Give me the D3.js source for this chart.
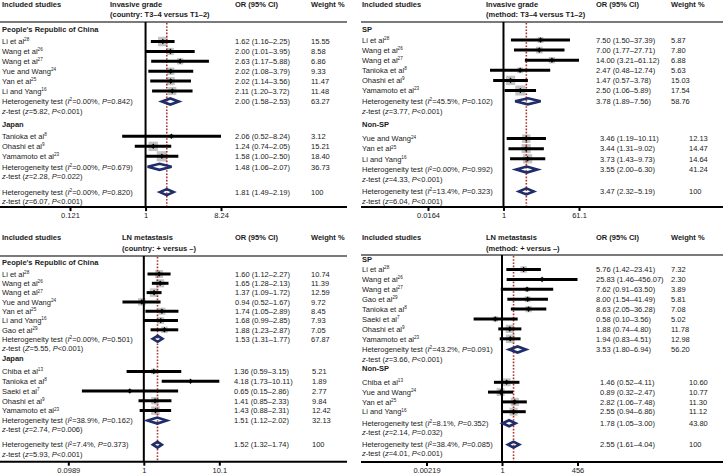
<!DOCTYPE html>
<html><head><meta charset="utf-8">
<script src="https://cdn.jsdelivr.net/npm/d3@7"></script>
<style>body{margin:0;background:#fff}svg{display:block}text{font-family:"Liberation Sans",Arial,Helvetica,sans-serif}</style>
</head><body><svg id="c" width="723" height="475"></svg>
<script>
// ---------- DATA ----------
// study rows: [label, reference, OR, lower, upper, weight %]
const tlChina = [["Li et al","28",1.62,1.16,2.25,15.55],["Wang et al","26",2.00,1.01,3.95,8.58],["Wang et al","27",2.63,1.17,5.88,6.86],["Yue and Wang","24",2.02,1.08,3.79,9.33],["Yan et al","25",2.02,1.14,3.56,11.47],["Li and Yang","16",2.11,1.20,3.72,11.48]];
const tlChinaPool = [2.00,1.58,2.53,63.27], tlChinaHet = ["0.00%","0.842"], tlChinaZ = ["z","5.82","<0.001"];
const tlJapan = [["Tanioka et al","8",2.06,0.52,8.24,3.12],["Ohashi et al","9",1.24,0.74,2.05,15.21],["Yamamoto et al","23",1.58,1.00,2.50,18.40]];
const tlJapanPool = [1.48,1.06,2.07,36.73], tlJapanHet = ["0.00%","0.679"], tlJapanZ = ["z","2.28","=0.022"];
const tlAllPool = [1.81,1.49,2.19,100], tlAllHet = ["0.00%","0.820"], tlAllZ = ["z","6.07","<0.001"];
const tlTicks = [0.121,1,8.24];

const trSP = [["Li et al","28",7.50,1.50,37.39,5.87],["Wang et al","26",7.00,1.77,27.71,7.80],["Wang et al","27",14.00,3.21,61.12,6.88],["Tanioka et al","8",2.47,0.48,12.74,5.63],["Ohashi et al","9",1.47,0.57,3.78,15.03],["Yamamoto et al","23",2.50,1.06,5.89,17.54]];
const trSPPool = [3.78,1.89,7.56,58.76], trSPHet = ["45.5%","0.102"], trSPZ = ["z","3.77","<0.001"];
const trNon = [["Yue and Wang","24",3.46,1.19,10.11,12.13],["Yan et al","25",3.44,1.31,9.02,14.47],["Li and Yang","16",3.73,1.43,9.73,14.64]];
const trNonPool = [3.55,2.00,6.30,41.24], trNonHet = ["0.00%","0.992"], trNonZ = ["z","4.33","<0.001"];
const trAllPool = [3.47,2.32,5.19,100], trAllHet = ["13.4%","0.323"], trAllZ = ["z","6.04","<0.001"];
const trTicks = [0.0164,1,61.1];

const blChina = [["Li et al","28",1.60,1.12,2.27,10.74],["Wang et al","26",1.65,1.28,2.13,11.39],["Wang et al","27",1.37,1.09,1.72,12.59],["Yue and Wang","24",0.94,0.52,1.67,9.72],["Yan et al","25",1.74,1.05,2.89,8.45],["Li and Yang","16",1.68,0.99,2.85,7.93],["Gao et al","29",1.88,1.23,2.87,7.05]];
const blChinaPool = [1.53,1.31,1.77,67.87], blChinaHet = ["0.00%","0.501"], blChinaZ = ["Z","5.55","<0.001"];
const blJapan = [["Chiba et al","13",1.36,0.59,3.15,5.21],["Tanioka et al","8",4.18,1.73,10.11,1.89],["Saeki et al","7",0.65,0.15,2.86,2.77],["Ohashi et al","9",1.41,0.85,2.33,9.84],["Yamamoto et al","23",1.43,0.88,2.31,12.42]];
const blJapanPool = [1.51,1.12,2.02,32.13], blJapanHet = ["38.9%","0.162"], blJapanZ = ["z","2.74","=0.006"];
const blAllPool = [1.52,1.32,1.74,100], blAllHet = ["7.4%","0.373"], blAllZ = ["z","5.93","<0.001"];
const blTicks = [0.0989,1,10.1];

const brSP = [["Li et al","28",5.76,1.42,23.41,7.32],["Wang et al","26",25.83,1.46,456.07,2.30],["Wang et al","27",7.62,0.91,63.50,3.89],["Gao et al","29",8.00,1.54,41.49,5.81],["Tanioka et al","8",8.63,2.05,36.28,7.08],["Saeki et al","7",0.58,0.10,3.56,5.02],["Ohashi et al","9",1.88,0.74,4.80,11.78],["Yamamoto et al","23",1.94,0.83,4.51,12.98]];
const brSPPool = [3.53,1.80,6.94,56.20], brSPHet = ["43.2%","0.091"], brSPZ = ["z","3.66","<0.001"];
const brNon = [["Chiba et al","13",1.46,0.52,4.11,10.60],["Yue and Wang","24",0.89,0.32,2.47,10.77],["Yan et al","25",2.82,1.06,7.48,11.30],["Li and Yang","16",2.55,0.94,6.86,11.12]];
const brNonPool = [1.78,1.05,3.00,43.80], brNonHet = ["8.1%","0.352"], brNonZ = ["z","2.14","=0.032"];
const brAllPool = [2.55,1.61,4.04,100], brAllHet = ["38.4%","0.085"], brAllZ = ["z","4.01","<0.001"];
const brTicks = [0.00219,1,456];

// ---------- LAYOUT ----------
const FS = 7.5, TXT = "#1a1a1a", NAVY = "#1f2d68", RED = "#a8332c";
const left = {ox:0, lineW:347, labelX:2, x1:145.5, half:75.5};
const right = {ox:361, lineW:362, labelX:1, x1:142.5, half:75.5};

const panels = [
 {L:Object.assign({}, left, {oy:0, x1:145.5, titleX:110, orX:[235,235], wX:[311,311], sep:22, g1:29, g2s:[12.5,12], step:[9.9,10], s2h:[10.5,10.5], h2z:9.8, z2g:13, z2o:15.5, o2z:9.5, z2a:5.5}),
  title:["Invasive grade","(country: T3–4 versus T1–2)"],
  groups:[{name:"People's Republic of China", s:tlChina, pool:tlChinaPool, het:tlChinaHet, z:tlChinaZ},{name:"Japan", s:tlJapan, pool:tlJapanPool, het:tlJapanHet, z:tlJapanZ}],
  all:{pool:tlAllPool, het:tlAllHet, z:tlAllZ}, ticks:tlTicks},
 {L:Object.assign({}, right, {oy:0, x1:142.5, titleX:125, orX:[235,239], wX:[310,328], sep:22, g1:29, g2s:[11,14], step:[10.1,10.1], s2h:[10.8,10.8], h2z:9.8, z2g:13.5, z2o:12, o2z:9.5, z2a:6}),
  title:["Invasive grade","(method: T3–4 versus T1–2)"],
  groups:[{name:"SP", s:trSP, pool:trSPPool, het:trSPHet, z:trSPZ},{name:"Non-SP", s:trNon, pool:trNonPool, het:trNonHet, z:trNonZ}],
  all:{pool:trAllPool, het:trAllHet, z:trAllZ}, ticks:trTicks},
 {L:Object.assign({}, left, {oy:233.5, x1:143.8, titleX:122, orX:[235,234], wX:[311,312], sep:22.5, g1:28.5, g2s:[12,13.5], step:[9.3,9.8], s2h:[9,10], h2z:9.1, z2g:10, z2o:15, o2z:9.2, z2a:7.8}),
  title:["LN metastasis","(country: + versus –)"],
  groups:[{name:"People's Republic of China", s:blChina, pool:blChinaPool, het:blChinaHet, z:blChinaZ},{name:"Japan", s:blJapan, pool:blJapanPool, het:blJapanHet, z:blJapanZ}],
  all:{pool:blAllPool, het:blAllHet, z:blAllZ}, ticks:blTicks},
 {L:Object.assign({}, right, {oy:233.5, x1:141, titleX:125, orX:[235,239], wX:[310,328], sep:21.5, g1:25.5, g2s:[10.5,14], step:[9.9,9.8], s2h:[10.7,11.6], h2z:9.3, z2g:9.5, z2o:12, o2z:9, z2a:8.5}),
  title:["LN metastasis","(method: + versus –)"],
  groups:[{name:"SP", s:brSP, pool:brSPPool, het:brSPHet, z:brSPZ},{name:"Non-SP", s:brNon, pool:brNonPool, het:brNonHet, z:brNonZ}],
  all:{pool:brAllPool, het:brAllHet, z:brAllZ}, ticks:brTicks}
];

// ---------- DRAW ----------
const svg = d3.select("#c");
svg.append("rect").attr("width",723).attr("height",475).attr("fill","#fff");
const defs = svg.append("defs");
defs.append("filter").attr("id","soft").attr("x","-50%").attr("y","-50%").attr("width","200%").attr("height","200%")
  .append("feGaussianBlur").attr("stdDeviation",0.6);

const f2 = d3.format(".2f");
const fmtOR = v => `${f2(v[0])} (${f2(v[1])}–${f2(v[2])})`;
const fmtW = w => w === 100 ? "100" : f2(w);

function rich(g, x, y, parts, bold) {
  const t = g.append("text").attr("x", x).attr("y", y + 2.7).attr("font-size", FS).attr("fill", TXT);
  if (bold) t.attr("font-weight", "bold");
  let shift = 0;
  parts.forEach(p => {
    const [s, st] = Array.isArray(p) ? p : [p, ""];
    const sp = t.append("tspan").text(s);
    const want = st.includes("s") ? -2.8 : 0;
    if (want !== shift) { sp.attr("dy", want - shift); shift = want; }
    if (st.includes("s")) sp.attr("font-size", FS * 0.62);
    if (st.includes("i")) sp.attr("font-style", "italic");
  });
  return t;
}
const hetParts = h => ["Heterogeneity test (", ["I","i"], ["2","s"], "=" + h[0] + ", ", ["P","i"], "=" + h[1] + ")"];
const zParts = z => [["z","i"], "-test (", [z[0],"i"], "=" + z[1] + ", ", ["P","i"], z[2] + ")"];

panels.forEach(p => {
  const L = p.L;
  const g = svg.append("g").attr("transform", `translate(${L.ox},${L.oy})`);
  // headers
  rich(g, L.labelX, 3.8, ["Included studies"], true);
  rich(g, L.titleX, 3.8, [p.title[0]], true);
  rich(g, L.titleX, 14.5, [p.title[1]], true);
  rich(g, L.orX[0], 3.8, ["OR (95% CI)"], true);
  rich(g, L.wX[0], 3.8, ["Weight %"], true);
  g.append("line").attr("x1",0).attr("x2",L.lineW).attr("y1",L.sep).attr("y2",L.sep).attr("stroke","#7a7a7a").attr("stroke-width",2);

  // rows
  const rows = [];
  let y = L.g1;
  p.groups.forEach((gr, gi) => {
    if (gi > 0) y += L.z2g;
    rows.push({type:"group", y, name:gr.name});
    y += L.g2s[gi];
    gr.s.forEach((s, i) => { if (i > 0) y += L.step[gi]; rows.push({type:"study", y, s, col:gi}); });
    y += L.s2h[gi]; rows.push({type:"het", y, pool:gr.pool, het:gr.het, col:gi});
    y += L.h2z; rows.push({type:"z", y, z:gr.z});
  });
  y += L.z2o; rows.push({type:"het", y, pool:p.all.pool, het:p.all.het, col:p.groups.length - 1});
  y += L.o2z; rows.push({type:"z", y, z:p.all.z});
  const axisY = y + L.z2a;

  const x = d3.scaleLog().domain([p.ticks[0], p.ticks[2]]).range([L.x1 - L.half, L.x1 + L.half]);

  // gray weight boxes
  const studies = rows.filter(r => r.type === "study");
  g.append("g").attr("filter","url(#soft)").selectAll("rect").data(studies).join("rect")
    .attr("x", r => x(r.s[2]) - 1.2 * Math.sqrt(r.s[5]))
    .attr("y", r => r.y - 1.2 * Math.sqrt(r.s[5]))
    .attr("width", r => 2.4 * Math.sqrt(r.s[5]))
    .attr("height", r => 2.4 * Math.sqrt(r.s[5]))
    .attr("fill", "#c4c4c4");

  // null line & overall line
  g.append("line").attr("x1", x(1)).attr("x2", x(1)).attr("y1", L.sep).attr("y2", axisY).attr("stroke","#000").attr("stroke-width",2);
  g.append("line").attr("x1", x(p.all.pool[0])).attr("x2", x(p.all.pool[0])).attr("y1", L.sep + 1).attr("y2", axisY)
    .attr("stroke", RED).attr("stroke-width",1.6).attr("stroke-dasharray","1.6,1.6");

  // CI lines
  g.append("g").selectAll("line").data(studies).join("line")
    .attr("x1", r => x(r.s[3])).attr("x2", r => x(r.s[4])).attr("y1", r => r.y).attr("y2", r => r.y)
    .attr("stroke","#000").attr("stroke-width",3);
  // point estimates
  g.append("g").selectAll("path").data(studies).join("path")
    .attr("d", r => { const cx = x(r.s[2]), cy = r.y; return `M${cx-2.2},${cy}L${cx},${cy-2.8}L${cx+2.2},${cy}L${cx},${cy+2.8}Z`; })
    .attr("fill","#000");

  // pooled diamonds
  const hets = rows.filter(r => r.type === "het");
  g.append("g").selectAll("path").data(hets).join("path")
    .attr("d", r => { const a = x(r.pool[1]), m = x(r.pool[0]), b = x(r.pool[2]), c = r.y; return `M${a},${c}L${m},${c-3}L${b},${c}L${m},${c+3}Z`; })
    .attr("fill","none").attr("stroke", NAVY).attr("stroke-width",2.6).attr("stroke-linejoin","miter");

  // texts
  rows.forEach(r => {
    if (r.type === "group") rich(g, L.labelX, r.y, [r.name], true);
    else if (r.type === "study") {
      rich(g, L.labelX, r.y, [r.s[0], [r.s[1], "s"]]);
      rich(g, L.orX[r.col], r.y, [fmtOR(r.s.slice(2, 5))]);
      rich(g, L.wX[r.col], r.y, [fmtW(r.s[5])]);
    } else if (r.type === "het") {
      rich(g, L.labelX, r.y, hetParts(r.het));
      rich(g, L.orX[r.col], r.y, [fmtOR(r.pool)]);
      rich(g, L.wX[r.col], r.y, [fmtW(r.pool[3])]);
    } else if (r.type === "z") rich(g, L.labelX, r.y, zParts(r.z));
  });

  // axis
  g.append("line").attr("x1",0).attr("x2",L.lineW).attr("y1",axisY).attr("y2",axisY).attr("stroke","#000").attr("stroke-width",2);
  const ax = g.append("g").attr("transform", `translate(0,${axisY})`)
    .call(d3.axisBottom(x).tickValues(p.ticks).tickSize(4).tickPadding(1.5).tickFormat(d => String(d)));
  ax.select(".domain").remove();
  ax.selectAll(".tick line").attr("stroke","#000").attr("stroke-width",2);
  ax.selectAll(".tick text").attr("font-size", FS).attr("fill", TXT).attr("font-family", '"Liberation Sans",Arial,sans-serif');
});
</script></body></html>
